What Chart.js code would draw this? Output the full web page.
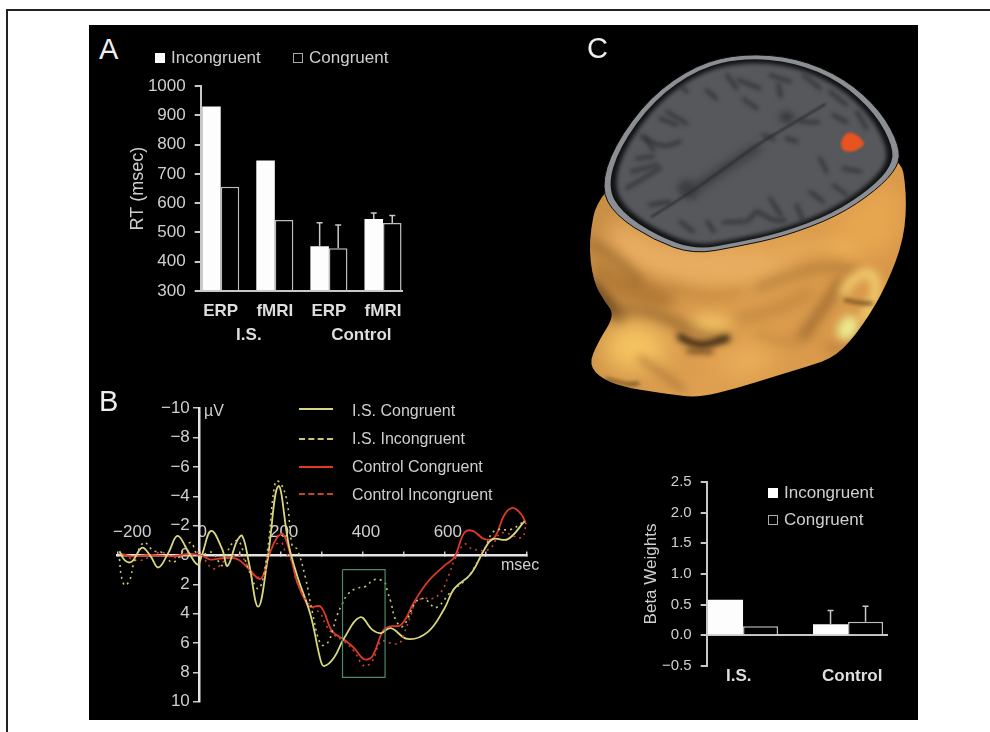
<!DOCTYPE html>
<html>
<head>
<meta charset="utf-8">
<title>Figure</title>
<script src="https://cdn.jsdelivr.net/npm/chart.js@4/dist/chart.umd.min.js"></script>
<style>
html, body { margin: 0; background: #fff; }
body { width: 990px; height: 732px; position: relative; overflow: hidden; font-family: "Liberation Sans", Arial, sans-serif; }
#frameTop { position: absolute; left: 6px; top: 9px; width: 984px; height: 2px; background: #222; }
#frameLeft { position: absolute; left: 6px; top: 9px; width: 2px; height: 723px; background: #222; }
#panel { position: absolute; left: 89px; top: 25px; width: 829px; height: 695px; background: #000; }
canvas { position: absolute; }
.txt { position: absolute; color: #cfcfcf; font-size: 16px; white-space: nowrap; transform: translateY(-50%); }
.letter { position: absolute; color: #eee; font-size: 29px; transform: translateY(-50%); }
.swatch { position: absolute; width: 10px; height: 10px; box-sizing: border-box; }
.white { background: #fff; }
.hollow { border: 1px solid #aaa; }
.key { position: absolute; width: 34px; height: 0; border-top: 2px solid; }
</style>
</head>
<body>
<div id="frameTop"></div><div id="frameLeft"></div>
<div id="panel"></div>

<canvas id="rtChart" width="320" height="303" style="left:120px;top:67px"></canvas>
<canvas id="erpChart" width="450" height="320" style="left:100px;top:395px"></canvas>
<canvas id="betaChart" width="280" height="231" style="left:630px;top:464px"></canvas>
<canvas id="headCanvas" width="350" height="390" style="left:570px;top:25px"></canvas>

<div class="letter" style="left:99px;top:49px">A</div>
<div class="letter" style="left:99px;top:401px">B</div>
<div class="letter" style="left:587px;top:48px">C</div>

<div class="swatch white" style="left:155px;top:53px"></div>
<div class="txt" style="left:171px;top:58px;font-size:17px">Incongruent</div>
<div class="swatch hollow" style="left:293px;top:53px"></div>
<div class="txt" style="left:309px;top:58px;font-size:17px">Congruent</div>

<div class="key" style="left:299px;top:408px;border-color:#d9d77e"></div>
<div class="key" style="left:299px;top:438px;border-top-style:dashed;border-color:#c9c774"></div>
<div class="key" style="left:299px;top:466px;border-color:#e0392a"></div>
<div class="key" style="left:299px;top:493px;border-top-style:dashed;border-color:#c8422e"></div>
<div class="txt" style="left:352px;top:411px">I.S. Congruent</div>
<div class="txt" style="left:352px;top:439px">I.S. Incongruent</div>
<div class="txt" style="left:352px;top:467px">Control Congruent</div>
<div class="txt" style="left:352px;top:495px">Control Incongruent</div>
<div class="txt" style="left:204px;top:411px">µV</div>
<div class="txt" style="left:501px;top:565px">msec</div>

<div class="swatch white" style="left:768px;top:488px"></div>
<div class="txt" style="left:784px;top:493px;font-size:17px">Incongruent</div>
<div class="swatch hollow" style="left:768px;top:515px"></div>
<div class="txt" style="left:784px;top:520px;font-size:17px">Congruent</div>

<script>
// Panel A: reaction times
const rtCategories = ['ERP', 'fMRI', 'ERP', 'fMRI'];
const rtGroups = ['I.S.', 'Control'];
const rtIncongruent = [931, 746, 453, 546];
const rtCongruent = [656, 543, 446, 532];
const rtIncongruentErr = [null, null, 533, 567];
const rtCongruentErr = [null, null, 526, 558];
const rtTicks = [300, 400, 500, 600, 700, 800, 900, 1000];

// Panel C: beta weights
const betaGroups = ['I.S.', 'Control'];
const betaIncongruent = [0.58, 0.18];
const betaCongruent = [0.15, 0.22];
const betaIncongruentErr = [null, 0.405];
const betaCongruentErr = [null, 0.476];

// Panel B: ERP traces
const erpYTicks = [-10, -8, -6, -4, -2, 0, 2, 4, 6, 8, 10];
const erpXTicks = [-200, 0, 100, 200, 300, 400, 500, 600, 700, 800];
const erpXLabels = [-200, 0, 200, 400, 600];

const isCongMs = [-195, -181, -165, -140, -120, -100, -75, -53, -26, -4, 6, 29, 56, 69, 92, 105, 121, 144, 166, 193, 219, 239, 272, 297, 306, 329, 354, 393, 423, 444, 468, 509, 558, 599, 623, 664, 697, 717, 754, 795];
const isCongUv = [-0.25, 0.38, 0.45, -0.49, 0.04, 0.85, -0.18, -1.3, -0.18, 0.65, 0.04, -1.64, -0.4, 0.74, -0.95, -1.3, 0.49, 3.52, 0.49, -4.69, -0.63, 1.39, 4.1, 7.23, 7.56, 7.0, 5.66, 4.24, 5.1, 5.32, 4.98, 5.72, 5.25, 3.64, 2.29, 1.28, -0.4, -1.08, -1.08, -2.31];

const isIncongMs = [-195, -190, -181, -167, -163, -136, -112, -92, -63, -22, -2, 31, 56, 76, 96, 117, 145, 166, 186, 199, 215, 227, 239, 260, 276, 297, 313, 325, 337, 350, 362, 382, 407, 427, 452, 460, 468, 480, 497, 529, 546, 558, 578, 615, 656, 697, 721, 762, 795];
const isIncongUv = [0.27, 1.5, 2.07, 1.5, 0.83, -0.85, -0.29, -0.18, 0.49, -0.85, 0.04, -0.18, 0.72, -0.63, -0.97, 0.72, 2.29, -0.18, -5.0, -4.89, -3.55, -0.63, -0.4, 1.62, 3.86, 6.1, 6.0, 5.2, 4.09, 3.3, 2.69, 2.29, 2.13, 1.68, 1.84, 2.51, 3.19, 4.42, 4.87, 3.2, 2.96, 3.14, 3.59, 2.51, 1.51, -0.4, -1.64, -1.75, -2.31];

const ctrlCongMs = [-195, -165, -120, -71, -22, 6, 27, 56, 92, 117, 150, 170, 190, 205, 223, 239, 264, 272, 297, 325, 354, 378, 403, 423, 448, 464, 493, 525, 558, 599, 623, 648, 668, 697, 721, 746, 766, 787, 799];
const ctrlCongUv = [-0.11, 0.09, 0, 0.09, -0.07, 0.04, 0.31, 0.22, 0.27, 0.83, 1.62, 0.04, -1.19, -1.41, 0.04, 1.84, 3.4, 3.54, 3.54, 5.2, 5.77, 6.33, 7.1, 6.89, 5.2, 4.87, 4.76, 3.2, 1.84, 0.72, 0.16, -1.53, -1.64, -1.08, -1.19, -2.76, -3.21, -2.76, -2.09];

const ctrlIncongMs = [-185, -145, -96, -63, -22, -2, 35, 68, 100, 133, 158, 170, 199, 211, 223, 239, 264, 297, 309, 329, 354, 378, 403, 423, 444, 468, 489, 501, 517, 529, 550, 570, 591, 611, 623, 648, 668, 709, 738, 787, 799];
const ctrlIncongUv = [0.04, 0.38, -0.18, 0.16, 0.04, -0.18, 0.94, 0.27, 0.04, 1.39, 1.39, -0.18, -0.85, -0.18, 0.27, 1.84, 3.19, 4.04, 4.76, 5.43, 5.88, 6.55, 7.56, 7.2, 5.88, 6.0, 6.0, 5.32, 4.09, 3.2, 2.96, 2.96, 2.51, 1.28, 0.38, -0.74, -0.4, -0.4, -1.5, -1.19, -2.09];

// analysis window box
const windowMs = [350, 454, 454, 350, 350];
const windowUv = [1, 1, 8.33, 8.33, 1];

const AXIS = '#c8c8c8';
const TEXT = '#cfcfcf';
const FONT = 'Liberation Sans';

const toPoints = (xs, ys) => xs.map((x, i) => ({ x: x, y: ys[i] }));
const minus = v => String(v).replace('-', '\u2212');

// Chart.js has no error bars, so they are drawn from the scale
const errorBars = {
    id: 'errorBars',
    afterDatasetsDraw(chart) {
        const ctx = chart.ctx;
        ctx.save();
        ctx.strokeStyle = AXIS;
        ctx.lineWidth = 1.5;
        chart.data.datasets.forEach((ds, d) => {
            if (!ds.errorTop) return;
            chart.getDatasetMeta(d).data.forEach((bar, i) => {
                if (ds.errorTop[i] === null) return;
                const top = chart.scales.y.getPixelForValue(ds.errorTop[i]);
                ctx.beginPath();
                ctx.moveTo(bar.x, bar.y);
                ctx.lineTo(bar.x, top);
                ctx.moveTo(bar.x - 3, top);
                ctx.lineTo(bar.x + 3, top);
                ctx.stroke();
            });
        });
        ctx.restore();
    }
};

function barDatasets(incong, cong, incongErr, congErr) {
    const xs = incong.map((_, i) => i + 1);
    return [{
        data: toPoints(xs, incong),
        backgroundColor: '#fdfdfd',
        borderWidth: 0,
        errorTop: incongErr
    }, {
        data: toPoints(xs, cong),
        backgroundColor: '#000',
        borderColor: '#bdbdbd',
        borderWidth: 1.5,
        borderSkipped: 'bottom',
        errorTop: congErr
    }];
}

// Panel A
new Chart(document.getElementById('rtChart'), {
    type: 'bar',
    data: { datasets: barDatasets(rtIncongruent, rtCongruent, rtIncongruentErr, rtCongruentErr) },
    plugins: [errorBars],
    options: {
        responsive: false,
        animation: false,
        layout: { padding: { top: 15, right: 37.3, bottom: 0, left: 0 } },
        plugins: { legend: { display: false }, tooltip: { enabled: false } },
        datasets: { bar: { base: 300, barPercentage: 1, categoryPercentage: 0.685 } },
        scales: {
            x: {
                type: 'linear', min: 0.63, max: 4.364, offset: false,
                afterBuildTicks: s => { s.ticks = rtCategories.map((_, i) => ({ value: i + 1 })); },
                afterFit: s => { s.height = 34; },
                grid: { display: false, drawTicks: false },
                border: { color: AXIS, width: 2 },
                ticks: {
                    autoSkip: false, maxRotation: 0, padding: 10, color: '#dedede',
                    font: { family: FONT, size: 17, weight: 'bold' },
                    callback: v => rtCategories[v - 1]
                }
            },
            x2: {
                type: 'linear', position: 'bottom', min: 0.63, max: 4.364, offset: false,
                afterBuildTicks: s => { s.ticks = [{ value: 1.52 }, { value: 3.6 }]; },
                afterFit: s => { s.height = 45; },
                grid: { display: false, drawTicks: false },
                border: { display: false },
                ticks: {
                    autoSkip: false, maxRotation: 0, padding: 0, color: '#dedede',
                    font: { family: FONT, size: 17, weight: 'bold' },
                    callback: v => rtGroups[v < 2 ? 0 : 1]
                }
            },
            y: {
                min: 300, max: 1000,
                afterBuildTicks: s => { s.ticks = rtTicks.map(v => ({ value: v })); },
                afterFit: s => { s.width = 80.7; },
                grid: { drawOnChartArea: false, color: AXIS, lineWidth: 2, tickLength: 6 },
                border: { color: AXIS, width: 2 },
                title: { display: true, text: 'RT (msec)', color: TEXT, padding: 7, font: { family: FONT, size: 18 } },
                ticks: { color: TEXT, padding: 9, font: { family: FONT, size: 17 }, callback: v => String(v) }
            }
        }
    }
});

// Panel B
function trace(xs, ys, color, dashed, width) {
    return {
        data: toPoints(xs, ys),
        showLine: true,
        borderColor: color,
        borderWidth: width,
        borderDash: dashed ? [2, 4] : [],
        tension: 0.4,
        pointRadius: 0
    };
}

new Chart(document.getElementById('erpChart'), {
    type: 'scatter',
    data: {
        datasets: [
            { data: toPoints(windowMs, windowUv), showLine: true, borderColor: '#4d8a6a', borderWidth: 1.2, pointRadius: 0 },
            trace(isIncongMs, isIncongUv, '#c9c774', true, 1.6),
            trace(ctrlIncongMs, ctrlIncongUv, '#c8422e', true, 1.6),
            trace(isCongMs, isCongUv, '#d9d77e', false, 1.8),
            trace(ctrlCongMs, ctrlCongUv, '#e0392a', false, 1.8)
        ]
    },
    options: {
        responsive: false,
        animation: false,
        layout: { padding: { top: 11, right: 23.3, bottom: 11.7, left: 17.4 } },
        plugins: { legend: { display: false }, tooltip: { enabled: false } },
        scales: {
            x: {
                type: 'linear', min: -200, max: 800,
                position: { y: 0 },
                afterBuildTicks: s => { s.ticks = erpXTicks.map(v => ({ value: v })); },
                grid: { drawOnChartArea: false, color: AXIS, lineWidth: 1.5, tickLength: -5 },
                border: { color: '#e4e4e4', width: 2.5 },
                ticks: {
                    autoSkip: false, maxRotation: 0, padding: -28, labelOffset: 3, color: TEXT,
                    font: { family: FONT, size: 17 },
                    callback: v => {
                        if (!erpXLabels.includes(v)) return '';
                        return (v === -200 ? '     ' : '') + minus(v);
                    }
                }
            },
            y: {
                type: 'linear', min: -10, max: 10, reverse: true,
                position: { x: 0 },
                afterBuildTicks: s => { s.ticks = erpYTicks.map(v => ({ value: v })); },
                grid: { drawOnChartArea: false, color: AXIS, lineWidth: 1.5, tickLength: 5 },
                border: { color: '#e4e4e4', width: 2.5 },
                ticks: {
                    color: TEXT, font: { family: FONT, size: 17 },
                    callback: v => minus(v) + '\u00a0\u00a0'
                }
            }
        }
    }
});

// Panel C chart
new Chart(document.getElementById('betaChart'), {
    type: 'bar',
    data: { datasets: barDatasets(betaIncongruent, betaCongruent, betaIncongruentErr, betaCongruentErr) },
    plugins: [errorBars],
    options: {
        responsive: false,
        animation: false,
        layout: { padding: { top: 11, right: 23, bottom: 0, left: 0 } },
        plugins: { legend: { display: false }, tooltip: { enabled: false } },
        datasets: { bar: { barPercentage: 1, categoryPercentage: 0.667 } },
        scales: {
            x: {
                type: 'linear', min: 0.654, max: 2.371, offset: false,
                position: { y: 0 },
                afterBuildTicks: s => { s.ticks = betaGroups.map((_, i) => ({ value: i + 1 })); },
                grid: { display: false },
                border: { color: AXIS, width: 2 },
                ticks: { display: false }
            },
            x2: {
                type: 'linear', position: 'bottom', min: 0.654, max: 2.371, offset: false,
                afterBuildTicks: s => { s.ticks = [{ value: 0.96 }, { value: 2.04 }]; },
                afterFit: s => { s.height = 29; },
                grid: { display: false, drawTicks: false },
                border: { display: false },
                ticks: {
                    autoSkip: false, maxRotation: 0, padding: 0, color: '#dedede',
                    font: { family: FONT, size: 17, weight: 'bold' },
                    callback: v => betaGroups[v < 1.5 ? 0 : 1]
                }
            },
            y: {
                min: -0.5, max: 2.5,
                ticks: {
                    stepSize: 0.5, color: TEXT, padding: 9, font: { family: FONT, size: 15 },
                    callback: v => minus(v.toFixed(1))
                },
                afterFit: s => { s.width = 76.7; },
                grid: { drawOnChartArea: false, color: AXIS, lineWidth: 2, tickLength: 6 },
                border: { color: AXIS, width: 2 },
                title: { display: true, text: 'Beta Weights', color: TEXT, padding: 11, font: { family: FONT, size: 17 } }
            }
        }
    }
});

// Panel C head rendering (not chart data, just an illustration)
function tracePath(ctx, pts, closed) {
    const mid = (a, b) => [(a[0] + b[0]) / 2, (a[1] + b[1]) / 2];
    ctx.beginPath();
    if (closed) {
        const s = mid(pts[pts.length - 1], pts[0]);
        ctx.moveTo(s[0], s[1]);
        pts.forEach((p, i) => {
            const m = mid(p, pts[(i + 1) % pts.length]);
            ctx.quadraticCurveTo(p[0], p[1], m[0], m[1]);
        });
        ctx.closePath();
    } else {
        ctx.moveTo(pts[0][0], pts[0][1]);
        for (let i = 1; i < pts.length - 1; i++) {
            const m = mid(pts[i], pts[i + 1]);
            ctx.quadraticCurveTo(pts[i][0], pts[i][1], m[0], m[1]);
        }
        const l = pts[pts.length - 1];
        ctx.lineTo(l[0], l[1]);
    }
}
function fillBlob(ctx, pts, color, blur) {
    ctx.filter = blur ? 'blur(' + blur + 'px)' : 'none';
    ctx.fillStyle = color;
    tracePath(ctx, pts, true);
    ctx.fill();
    ctx.filter = 'none';
}
function strokeLine(ctx, pts, color, width, blur) {
    ctx.filter = blur ? 'blur(' + blur + 'px)' : 'none';
    ctx.strokeStyle = color;
    ctx.lineWidth = width;
    ctx.lineCap = 'round';
    tracePath(ctx, pts, false);
    ctx.stroke();
    ctx.filter = 'none';
}

function drawHead() {
    const ctx = document.getElementById('headCanvas').getContext('2d');
    ctx.scale(1 / 3, 1 / 3);

    const head = [[85, 500], [55, 650], [70, 770], [105, 830], [135, 870], [85, 950], [55, 1020], [100, 1065], [180, 1090], [300, 1108], [385, 1118], [500, 1090], [610, 1055], [710, 1025], [800, 995], [880, 900], [950, 780], [1003, 640], [1010, 500], [990, 385], [700, 300], [300, 350]];
    const grad = ctx.createLinearGradient(100, 600, 950, 950);
    grad.addColorStop(0, '#c98f46');
    grad.addColorStop(0.5, '#dfa050');
    grad.addColorStop(1, '#d79648');
    ctx.save();
    ctx.fillStyle = grad;
    tracePath(ctx, head, true);
    ctx.fill();
    ctx.clip();

    // broad light and shade
    fillBlob(ctx, [[110, 560], [300, 680], [600, 670], [700, 720], [500, 790], [250, 760], [120, 680]], '#e9ae62', 10);
    fillBlob(ctx, [[800, 580], [990, 440], [1000, 640], [900, 700], [760, 700]], '#e6a650', 10);
    fillBlob(ctx, [[60, 690], [140, 740], [330, 800], [300, 860], [160, 830], [70, 760]], '#b37a36', 7);
    strokeLine(ctx, [[55, 650], [130, 690], [210, 770]], '#8a5c28', 16, 6);
    strokeLine(ctx, [[65, 780], [110, 830], [150, 880]], '#4e3213', 28, 6);
    strokeLine(ctx, [[140, 860], [250, 860], [340, 910], [470, 935]], '#8d5f2a', 24, 6);
    strokeLine(ctx, [[300, 790], [420, 820], [520, 800]], '#ba8038', 16, 6);
    strokeLine(ctx, [[560, 790], [680, 740], [800, 720], [860, 740]], '#a06f30', 16, 6);
    strokeLine(ctx, [[640, 680], [760, 650], [860, 680]], '#eeb860', 16, 7);
    strokeLine(ctx, [[500, 880], [620, 860], [720, 800]], '#b37c38', 20, 7);
    strokeLine(ctx, [[560, 930], [640, 960], [720, 930]], '#b88038', 14, 6);
    strokeLine(ctx, [[700, 930], [760, 850], [810, 770]], '#8f5f2a', 22, 6);
    strokeLine(ctx, [[770, 960], [800, 990], [870, 920]], '#b27a38', 16, 6);
    // nose, brow, cheek
    fillBlob(ctx, [[90, 960], [150, 885], [260, 905], [310, 990], [230, 1040], [120, 1030]], '#f6c562', 12);
    fillBlob(ctx, [[340, 890], [420, 865], [510, 900], [430, 925]], '#f4c868', 7);
    fillBlob(ctx, [[420, 1010], [560, 960], [640, 990], [520, 1060]], '#eeb55e', 12);
    strokeLine(ctx, [[330, 935], [380, 968], [470, 940]], '#21150a', 18, 3);
    strokeLine(ctx, [[355, 978], [425, 980]], '#59391a', 12, 3);
    strokeLine(ctx, [[210, 1000], [270, 1040], [340, 1095]], '#a87236', 14, 5);
    strokeLine(ctx, [[110, 1062], [170, 1080], [205, 1075]], '#3c270f', 7, 2);
    // ear
    strokeLine(ctx, [[820, 800], [860, 745], [915, 745], [920, 810], [880, 880]], '#f6d676', 24, 5);
    strokeLine(ctx, [[825, 825], [870, 835], [905, 835]], '#4e3414', 8, 2);
    fillBlob(ctx, [[795, 915], [825, 868], [868, 878], [862, 932], [815, 952]], '#ebe88e', 4);
    ctx.restore();

    // skull cut: rim, dark ring, cortex
    const rim = [[92, 490], [130, 365], [240, 215], [380, 118], [520, 85], [680, 98], [825, 160], [935, 260], [990, 365], [985, 425], [920, 495], [800, 575], [640, 635], [500, 665], [370, 688], [250, 645], [135, 570]];
    const inset = k => rim.map(p => [540 + (p[0] - 540) * k, 385 + (p[1] - 385) * k]);
    fillBlob(ctx, rim, '#8b8f94', 0);
    ctx.strokeStyle = '#0c0c0c';
    ctx.lineWidth = 3;
    tracePath(ctx, rim, true);
    ctx.stroke();
    fillBlob(ctx, inset(0.955), '#111214', 0);
    fillBlob(ctx, inset(0.915), '#56585b', 2);

    ctx.save();
    tracePath(ctx, inset(0.915), true);
    ctx.clip();
    const sulci = [
        [[215, 335], [270, 370], [330, 350]], [[250, 375], [225, 335]], [[290, 260], [350, 295]],
        [[410, 195], [440, 222]], [[505, 165], [570, 190]], [[625, 178], [632, 215]],
        [[520, 222], [560, 250]], [[690, 290], [745, 292]], [[790, 270], [830, 292]],
        [[750, 400], [770, 440]], [[820, 430], [870, 440]], [[720, 500], [760, 530]],
        [[565, 560], [610, 590], [645, 585]], [[600, 520], [632, 570]], [[460, 592], [520, 590]],
        [[412, 590], [432, 620]], [[330, 590], [370, 620]], [[170, 490], [270, 430]],
        [[185, 440], [262, 420]], [[650, 340], [680, 350]], [[580, 330], [612, 342]],
        [[320, 170], [350, 200]], [[700, 150], [750, 190]], [[240, 540], [300, 530]],
        [[270, 280], [320, 300]], [[200, 400], [250, 395]], [[470, 150], [500, 190]],
        [[600, 150], [660, 170]], [[780, 200], [830, 240]], [[860, 260], [890, 310]],
        [[680, 540], [700, 590]], [[530, 590], [560, 560]], [[790, 480], [830, 510]]
    ];
    sulci.forEach(s => strokeLine(ctx, s, '#303235', 10, 2));
    strokeLine(ctx, [[385, 485], [470, 425], [560, 370]], '#3c3e41', 26, 4);
    fillBlob(ctx, [[315, 480], [350, 460], [385, 480], [385, 520], [340, 525]], '#3c3e41', 3);
    fillBlob(ctx, [[620, 275], [650, 255], [680, 275], [650, 300]], '#36383b', 3);
    strokeLine(ctx, [[245, 575], [350, 510], [450, 440], [560, 360], [660, 300], [765, 238]], '#25272a', 5, 1);
    ctx.restore();

    fillBlob(ctx, [[812, 345], [835, 318], [862, 330], [890, 358], [850, 382], [815, 378]], '#e8531f', 1);
}
drawHead();
</script>
</body>
</html>
